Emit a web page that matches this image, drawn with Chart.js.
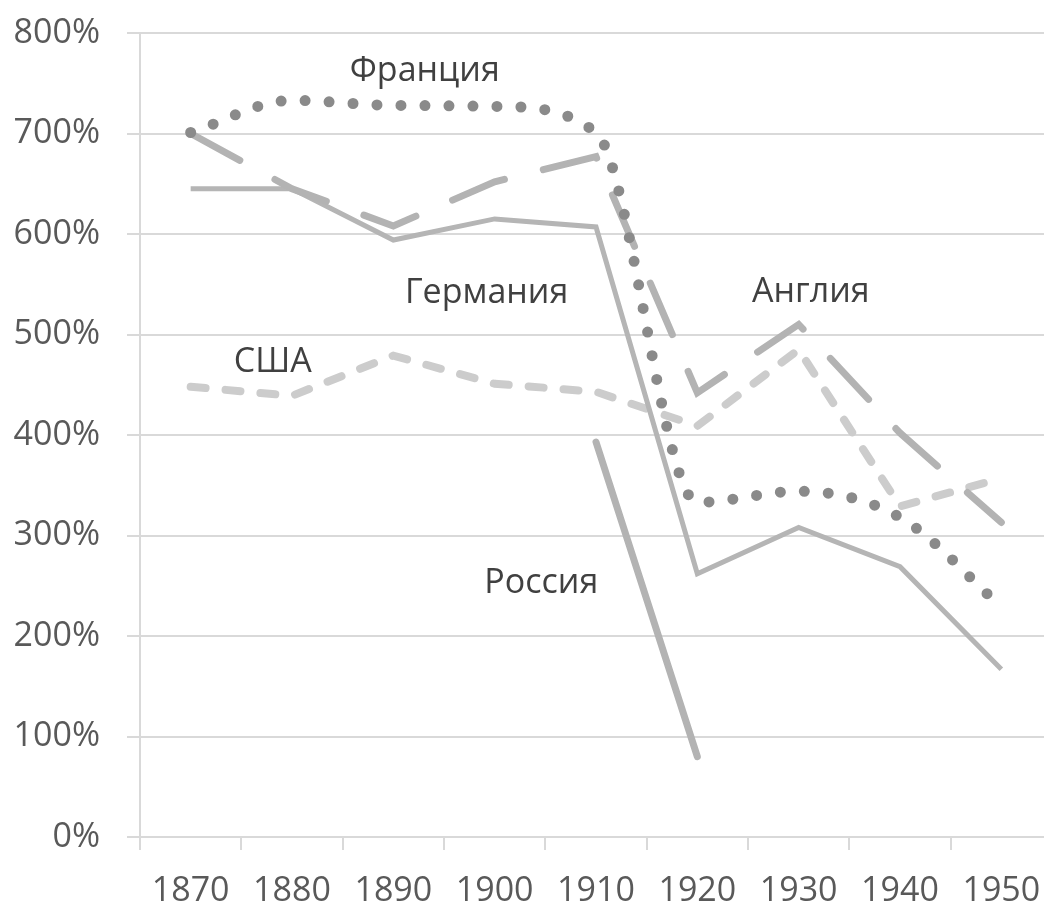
<!DOCTYPE html>
<html>
<head>
<meta charset="utf-8">
<script src="https://cdn.jsdelivr.net/npm/chart.js@4/dist/chart.umd.min.js"></script>
<style>
  body { margin: 0; overflow: hidden; background: #fff; }
</style>
</head>
<body>
<canvas id="chart" width="1052" height="903"></canvas>
<script>
// Decades on the x axis
const years = ['1870', '1880', '1890', '1900', '1910', '1920', '1930', '1940', '1950'];

// Values in percent
const france  = [701, 733, 728, 727, 701, 333, 344, 318, 229];
const england = [700, 645, 608, 652, 677, 442, 510, 402, 313];
const germany = [645, 645, 594, 615, 607, 262, 308, 269, 167];
const usa     = [448, 439, 479, 451, 443, 409, 485, 329, 357];
const russia  = [null, null, null, null, 393, 80, null, null, null];

const yTicks = [0, 100, 200, 300, 400, 500, 600, 700, 800];

// Text labels next to the lines (category index, value)
const seriesLabels = [
  { text: 'Франция', x: 2.31, y: 762 },
  { text: 'Германия', x: 2.92, y: 541 },
  { text: 'Англия', x: 6.12, y: 542 },
  { text: 'США', x: 0.81, y: 472 },
  { text: 'Россия', x: 3.46, y: 252 }
];

const fontFamily = '"Open Sans", "DejaVu Sans", sans-serif';

const labelPlugin = {
  id: 'seriesLabels',
  afterDatasetsDraw(chart) {
    const ctx = chart.ctx;
    const xs = chart.scales.x, ys = chart.scales.y;
    ctx.save();
    ctx.font = '34px ' + fontFamily;
    ctx.fillStyle = '#404040';
    ctx.textAlign = 'center';
    ctx.textBaseline = 'middle';
    seriesLabels.forEach(l => {
      ctx.fillText(l.text, xs.getPixelForValue(l.x), ys.getPixelForValue(l.y));
    });
    ctx.restore();
  }
};

new Chart(document.getElementById('chart'), {
  type: 'line',
  data: {
    labels: years,
    datasets: [
      {
        label: 'Франция', data: france,
        borderColor: '#8a8a8a', borderWidth: 11,
        borderDash: [0, 24], borderCapStyle: 'round',
        cubicInterpolationMode: 'monotone', pointRadius: 0
      },
      {
        label: 'Англия', data: england,
        borderColor: '#b3b3b3', borderWidth: 7,
        borderDash: [56, 40], borderCapStyle: 'round',
        tension: 0, pointRadius: 0
      },
      {
        label: 'Германия', data: germany,
        borderColor: '#b5b5b5', borderWidth: 5,
        tension: 0, pointRadius: 0
      },
      {
        label: 'США', data: usa,
        borderColor: '#cccccc', borderWidth: 8,
        borderDash: [15, 20], borderCapStyle: 'round',
        tension: 0, pointRadius: 0
      },
      {
        label: 'Россия', data: russia,
        borderColor: '#b3b3b3', borderWidth: 7,
        borderCapStyle: 'round',
        tension: 0, pointRadius: 0, spanGaps: false
      }
    ]
  },
  options: {
    responsive: false,
    animation: false,
    layout: { padding: { top: 33, left: 0, right: 0, bottom: 0 } },
    plugins: {
      legend: { display: false },
      tooltip: { enabled: false }
    },
    scales: {
      x: {
        offset: true,
        grid: {
          offset: true, drawOnChartArea: false, drawTicks: true,
          tickLength: 13, color: '#d9d9d9', lineWidth: 2
        },
        border: { display: true, color: '#d9d9d9', width: 2 },
        ticks: {
          color: '#595959', padding: 21, maxRotation: 0, autoSkip: false,
          font: { family: fontFamily, size: 34 }
        },
        afterFit(scale) {
          scale.height = 66;
          scale.paddingLeft = 0;
          scale.paddingRight = 0;
        }
      },
      y: {
        min: 0, max: 800,
        afterBuildTicks(scale) { scale.ticks = yTicks.map(v => ({ value: v })); },
        grid: { color: '#d9d9d9', lineWidth: 2, tickLength: 13 },
        border: { display: true, color: '#d9d9d9', width: 2 },
        ticks: {
          color: '#595959', padding: 27,
          font: { family: fontFamily, size: 34 },
          callback: v => v + '%'
        },
        afterFit(scale) {
          scale.width = 140;
          scale.paddingTop = 0;
          scale.paddingBottom = 0;
        }
      }
    }
  },
  plugins: [labelPlugin]
});
</script>
</body>
</html>
